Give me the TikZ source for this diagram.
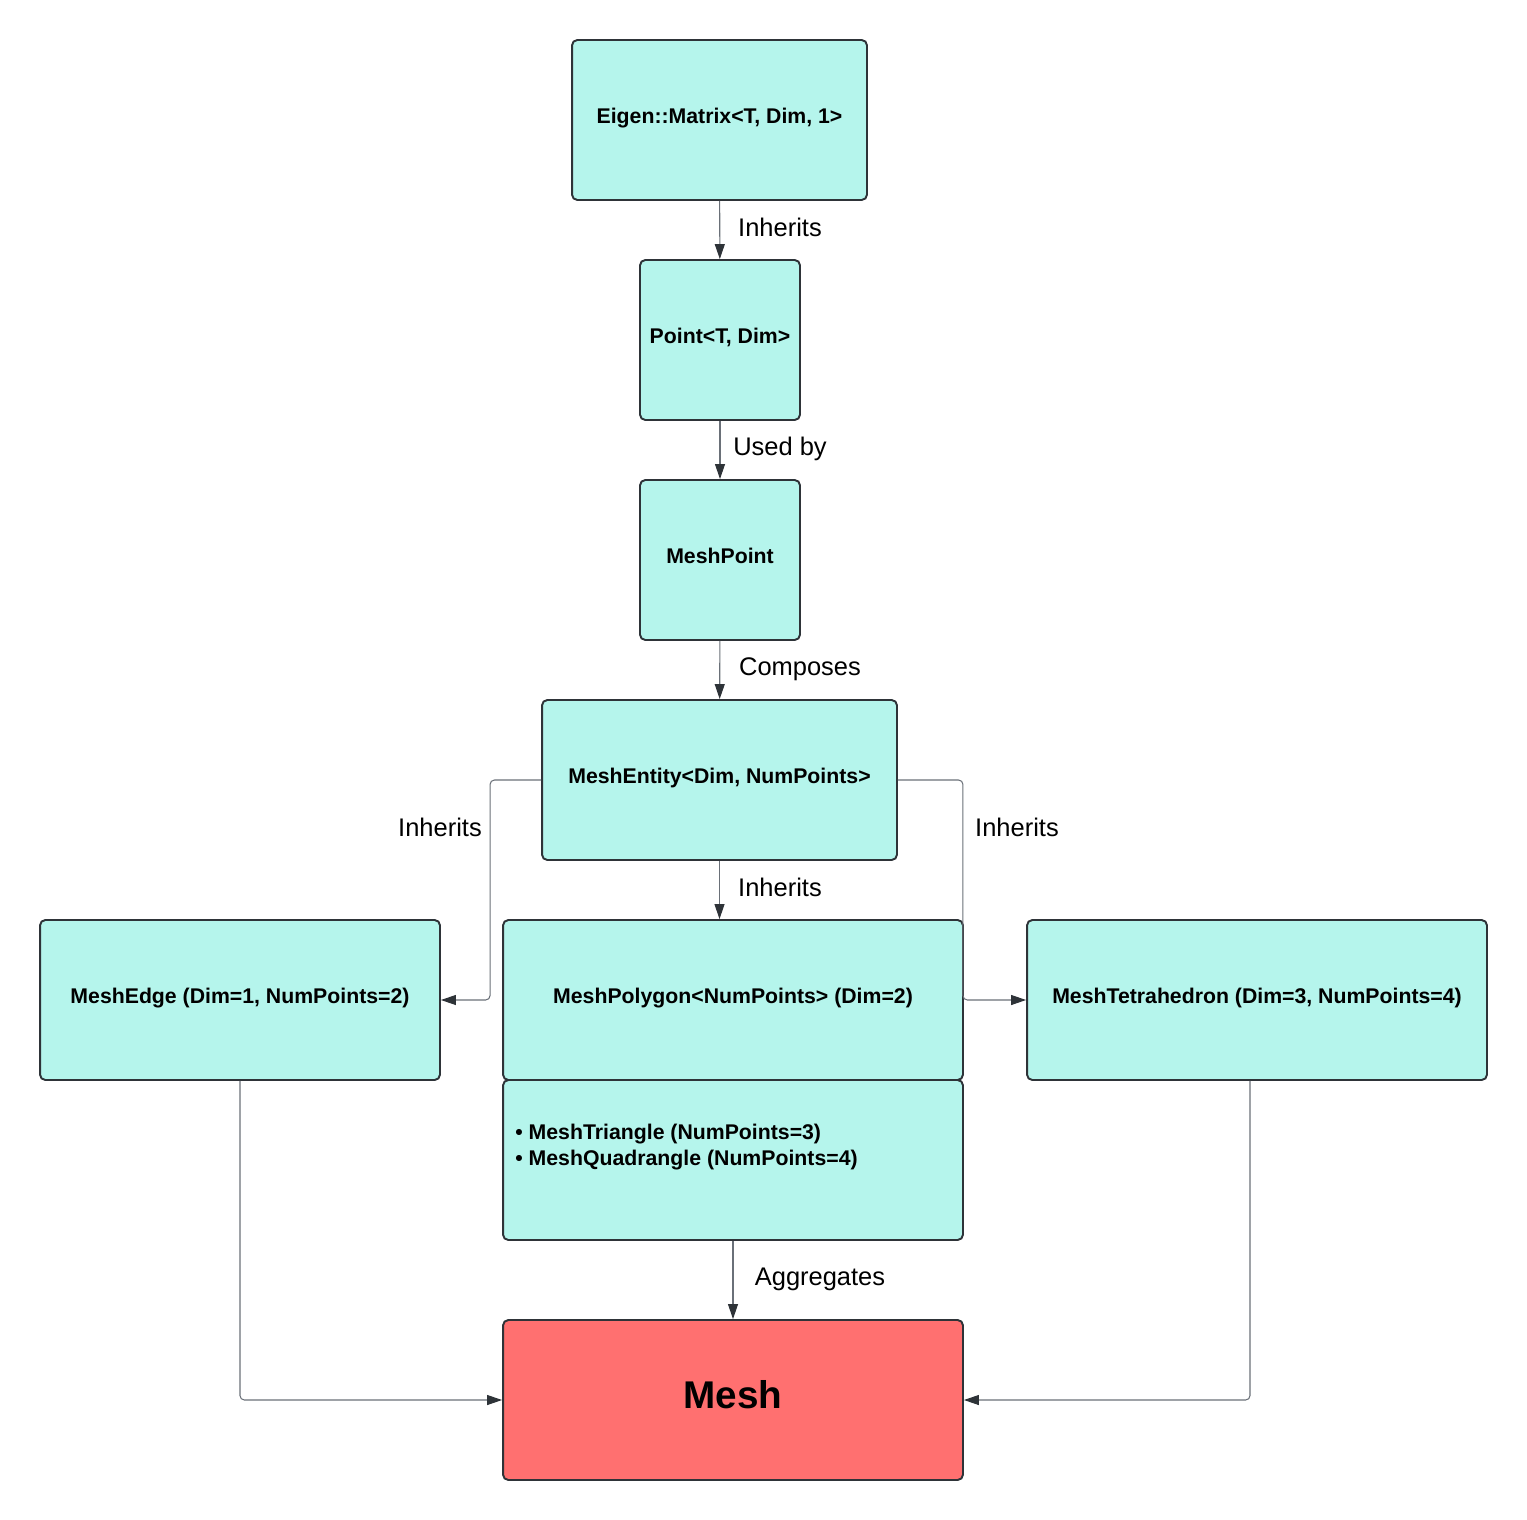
\documentclass[tikz,border=0pt]{standalone}
\usepackage{fontspec}
\setmainfont{Liberation Sans}
\usetikzlibrary{arrows.meta,positioning}
\definecolor{boxteal}{HTML}{B5F5EC}
\definecolor{meshred}{HTML}{FF7070}
\definecolor{borderdark}{HTML}{2E3338}
\definecolor{linegray}{HTML}{6A7078}

\begin{document}
\begin{tikzpicture}[x=0.02cm,y=-0.02cm,
    box/.style={draw=borderdark, line width=1.1pt, fill=boxteal, rounded corners=3pt,
                minimum height=3.2cm, align=center, text height=9pt, text depth=5pt,
                font=\fontsize{12.1}{14.8}\selectfont\bfseries},
    conn/.style={draw=linegray, line width=0.6pt, rounded corners=2.5pt,
                 -{Triangle[length=0.3cm,width=0.2cm,color=borderdark]}},
    lbl/.style={font=\fontsize{14.5}{17}\selectfont}]
    \useasboundingbox (0,0) rectangle (1527,1520);
    % class boxes
    \node[box, minimum width=5.9cm] (eigen) at (719.5,120) {Eigen::Matrix<T, Dim, 1>};
    \node[box, minimum width=3.2cm] (point) at (720,340) {Point<T, Dim>};
    \node[box, minimum width=3.2cm] (meshpoint) at (720,560) {MeshPoint};
    \node[box, minimum width=7.1cm] (entity) at (719.5,780) {MeshEntity<Dim, NumPoints>};
    \node[box, minimum width=8cm] (edge) at (240,1000) {MeshEdge (Dim=1, NumPoints=2)};
    \node[box, minimum width=9.2cm] (polygon) at (733,1000) {MeshPolygon<NumPoints> (Dim=2)};
    \node[box, minimum width=9.2cm] (tetra) at (1257,1000) {MeshTetrahedron (Dim=3, NumPoints=4)};
    \node[box, minimum width=9.2cm] (polylist) at (733,1160) {};
    \node[anchor=west, align=left, inner sep=0pt, font=\fontsize{12.1}{14.8}\selectfont\bfseries]
        (polytext) at (515,1147) {\textbullet{} MeshTriangle (NumPoints=3)\\\textbullet{} MeshQuadrangle (NumPoints=4)};
    \node[box, minimum width=9.2cm, fill=meshred, text height=16pt, text depth=5.8pt,
          font=\fontsize{22}{26}\selectfont\bfseries] (mesh) at (733,1400) {Mesh};
    % vertical chain
    \draw[conn] (eigen) -- (point);
    \node[lbl] (inh1) at (780,227) {Inherits};
    \draw[conn] (point) -- (meshpoint);
    \node[lbl] (used) at (780,449) {Used by};
    \draw[conn] (meshpoint) -- (entity);
    \node[lbl] (comp) at (800,669) {Composes};
    % entity to subclasses
    \draw[conn] (entity.west) -- ++(-51,0) |- (edge.east);
    \node[lbl] (inh2) at (440,827) {Inherits};
    \draw[conn] (entity.east) -- ++(65,0) |- (tetra.west);
    \node[lbl] (inh3) at (1017,827) {Inherits};
    \draw[conn] (entity.south) -- (entity.south |- polygon.north);
    \node[lbl] (inh4) at (780,887) {Inherits};
    % into mesh
    \draw[conn] (polylist) -- (mesh);
    \node[lbl] (aggr) at (820,1279) {Aggregates};
    \draw[conn] (edge.south) |- (mesh.west);
    \draw[conn] (tetra.south -| 1250,0) |- (mesh.east);
\end{tikzpicture}
\end{document}
